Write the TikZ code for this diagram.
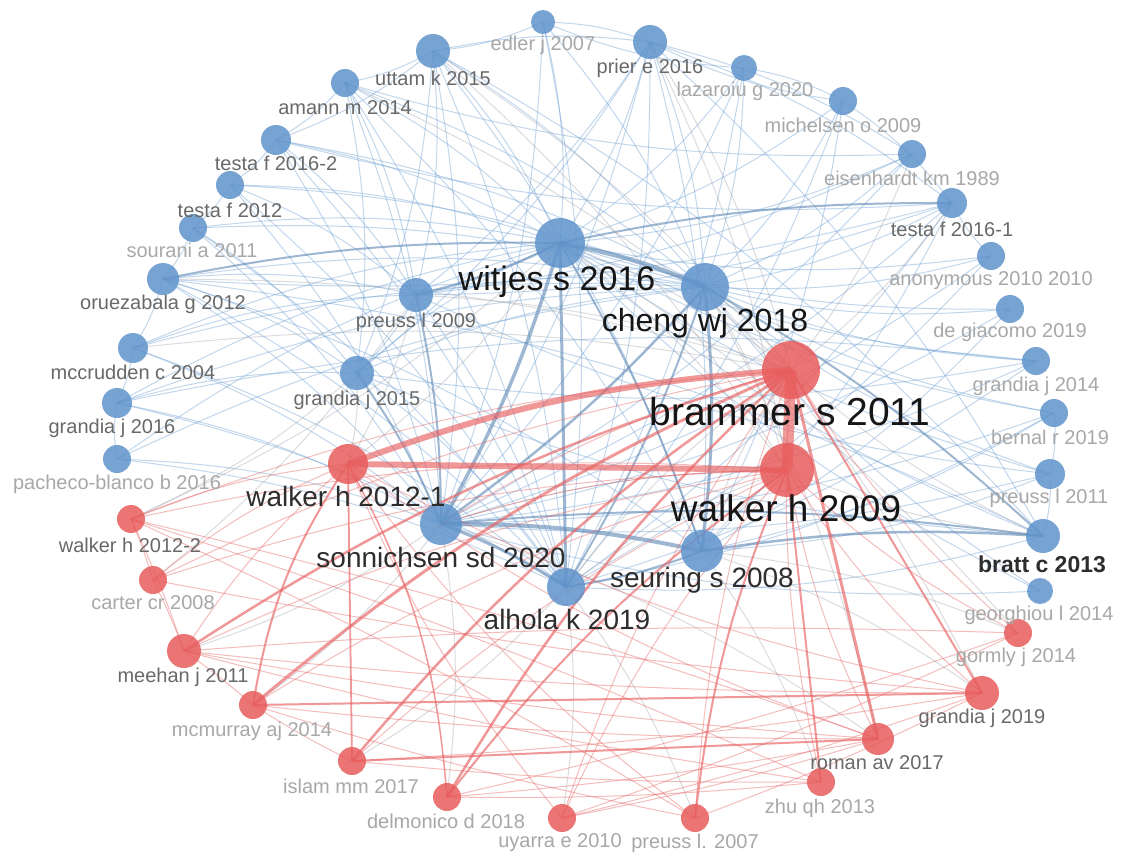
\documentclass[tikz,border=0pt]{standalone}
\usepackage{fontspec}
\setmainfont{Liberation Sans}
\pgfdeclarelayer{edges}
\pgfsetlayers{edges,main}
\definecolor{nblue}{RGB}{96,148,204}
\definecolor{nred}{RGB}{232,92,92}
\definecolor{eblue}{RGB}{110,160,212}
\definecolor{ered}{RGB}{232,96,96}
\definecolor{egrey}{RGB}{150,155,165}
\definecolor{tdark}{RGB}{22,22,22}
\definecolor{tbig}{RGB}{45,45,45}
\definecolor{tmid}{RGB}{105,105,105}
\definecolor{tlight}{RGB}{168,168,168}
\tikzset{
  bn/.style={circle, inner sep=0pt, fill=nblue, fill opacity=0.85, draw=none},
  rn/.style={circle, inner sep=0pt, fill=nred, fill opacity=0.85, draw=none},
  lsm/.style={inner sep=0pt, text=tlight, font=\fontsize{20}{22}\selectfont},
  lmd/.style={inner sep=0pt, text=tmid, font=\fontsize{20}{22}\selectfont},
  lbg/.style={inner sep=0pt, text=tbig, font=\fontsize{28}{30}\selectfont},
  lhuge/.style={inner sep=0pt, text=tdark},
  be/.style={draw=eblue, line width=1pt, opacity=0.42},
  bs/.style={draw=eblue!85!black, opacity=0.6},
  ge/.style={draw=egrey, line width=1pt, opacity=0.35},
  re/.style={draw=ered, line width=1pt, opacity=0.42},
  rs/.style={draw=ered, opacity=0.65},
}
\begin{document}
\begin{tikzpicture}[x=1pt,y=-1pt]
\useasboundingbox (0,0) rectangle (1125,855);
% ---- blue nodes
\node[bn,minimum size=24] (edler) at (543,22) {};
\node[bn,minimum size=34] (uttam) at (433,51) {};
\node[bn,minimum size=34] (prier) at (650,42) {};
\node[bn,minimum size=26] (lazarou) at (744,68) {};
\node[bn,minimum size=28] (michelsen) at (843,101) {};
\node[bn,minimum size=28] (eisenhardt) at (912,154) {};
\node[bn,minimum size=30] (testaA) at (952,203) {};
\node[bn,minimum size=28] (anon) at (991,256) {};
\node[bn,minimum size=28] (degiacomo) at (1010,309) {};
\node[bn,minimum size=28] (grandiaD) at (1036,361) {};
\node[bn,minimum size=28] (bernal) at (1054,413) {};
\node[bn,minimum size=30] (preussC) at (1050,474) {};
\node[bn,minimum size=34] (bratt) at (1043,536) {};
\node[bn,minimum size=26] (georghiou) at (1040,591) {};
\node[bn,minimum size=28] (amann) at (345,83) {};
\node[bn,minimum size=30] (testaB) at (276,140) {};
\node[bn,minimum size=28] (testaC) at (230,185) {};
\node[bn,minimum size=28] (sourani) at (193,228) {};
\node[bn,minimum size=32] (oruez) at (163,279) {};
\node[bn,minimum size=30] (mccrudden) at (133,348) {};
\node[bn,minimum size=30] (grandiaF) at (117,403) {};
\node[bn,minimum size=28] (pacheco) at (117,459) {};
\node[bn,minimum size=50] (witjes) at (560,243) {};
\node[bn,minimum size=48] (cheng) at (705,287) {};
\node[bn,minimum size=34] (preussB) at (416,295) {};
\node[bn,minimum size=34] (grandiaE) at (357,373) {};
\node[bn,minimum size=42] (sonn) at (441,524) {};
\node[bn,minimum size=42] (seuring) at (702,551) {};
\node[bn,minimum size=38] (alhola) at (566,587) {};
% ---- red nodes
\node[rn,minimum size=58] (brammer) at (791,370) {};
\node[rn,minimum size=54] (walkerA) at (787,470) {};
\node[rn,minimum size=40] (walkerB) at (348,464) {};
\node[rn,minimum size=28] (walkerC) at (131,519) {};
\node[rn,minimum size=28] (carter) at (153,580) {};
\node[rn,minimum size=34] (meehan) at (184,651) {};
\node[rn,minimum size=28] (mcmurray) at (253,705) {};
\node[rn,minimum size=28] (islam) at (352,761) {};
\node[rn,minimum size=28] (delmonico) at (447,797) {};
\node[rn,minimum size=28] (uyarra) at (562,818) {};
\node[rn,minimum size=28] (preussA) at (695,818) {};
\node[rn,minimum size=28] (zhu) at (821,782) {};
\node[rn,minimum size=32] (roman) at (878,739) {};
\node[rn,minimum size=34] (grandiaG) at (982,693) {};
\node[rn,minimum size=28] (gormly) at (1018,633) {};
% ---- edges
\begin{pgfonlayer}{edges}
\fill[white] (0,0) rectangle (1125,855);
\foreach \a/\b in {edler/witjes, edler/cheng, edler/sonn, edler/alhola, edler/prier, edler/uttam,
 uttam/witjes, uttam/cheng, uttam/sonn, uttam/alhola, uttam/seuring, uttam/preussB, uttam/grandiaE, uttam/amann, uttam/testaB, uttam/prier, uttam/bratt,
 prier/witjes, prier/cheng, prier/sonn, prier/alhola, prier/seuring, prier/preussB, prier/grandiaE, prier/eisenhardt, prier/testaA, prier/bratt,
 lazarou/witjes, lazarou/cheng, lazarou/sonn, lazarou/alhola, lazarou/michelsen, lazarou/edler,
 michelsen/witjes, michelsen/cheng, michelsen/alhola, michelsen/seuring, michelsen/testaA, michelsen/prier,
 eisenhardt/witjes, eisenhardt/cheng, eisenhardt/sonn, eisenhardt/preussB, eisenhardt/amann,
 testaA/cheng, testaA/sonn, testaA/alhola, testaA/seuring, testaA/preussB, testaA/testaB, testaA/oruez,
 anon/witjes, anon/cheng, anon/sonn, anon/alhola, anon/testaA,
 degiacomo/witjes, degiacomo/cheng, degiacomo/sonn, degiacomo/seuring,
 grandiaD/witjes, grandiaD/cheng, grandiaD/sonn, grandiaD/alhola, grandiaD/grandiaE,
 bernal/witjes, bernal/cheng, bernal/sonn, bernal/seuring, bernal/alhola, bernal/preussC,
 preussC/witjes, preussC/cheng, preussC/sonn, preussC/seuring, preussC/preussB, preussC/bratt,
 bratt/witjes, bratt/alhola, bratt/grandiaE,
 georghiou/witjes, georghiou/cheng, georghiou/sonn,
 amann/witjes, amann/cheng, amann/sonn, amann/alhola, amann/seuring, amann/grandiaE, amann/preussB, amann/testaB,
 testaB/witjes, testaB/cheng, testaB/sonn, testaB/alhola, testaB/preussB, testaB/testaC,
 testaC/witjes, testaC/cheng, testaC/sonn, testaC/alhola, testaC/preussB, testaC/sourani,
 sourani/witjes, sourani/cheng, sourani/sonn, sourani/alhola, sourani/grandiaE, sourani/oruez,
 oruez/cheng, oruez/sonn, oruez/alhola, oruez/seuring, oruez/preussB, oruez/grandiaE, oruez/bratt, oruez/mccrudden,
 mccrudden/witjes, mccrudden/cheng, mccrudden/sonn, mccrudden/alhola, mccrudden/preussB, mccrudden/grandiaF,
 grandiaF/witjes, grandiaF/cheng, grandiaF/sonn, grandiaF/alhola, grandiaF/grandiaE, grandiaF/grandiaD,
 pacheco/witjes, pacheco/sonn, pacheco/alhola, pacheco/cheng, pacheco/grandiaF,
 preussB/grandiaE, preussB/alhola, preussB/cheng, grandiaE/alhola, grandiaE/cheng, grandiaE/witjes}
 {\draw[be] (\a.center) to[bend left=9] (\b.center);}
\foreach \a/\b/\w in {witjes/cheng/4.5, witjes/sonn/3.5, witjes/seuring/2, witjes/preussB/2.5,
 cheng/sonn/2.5, cheng/seuring/3, cheng/alhola/2, sonn/seuring/4, sonn/alhola/3, seuring/alhola/2,
 seuring/bratt/2.5, cheng/bratt/2, witjes/testaA/2, oruez/witjes/2, sonn/bratt/2, preussB/sonn/2, grandiaE/sonn/2}
 {\draw[bs, line width=\w pt] (\a.center) to[bend left=6] (\b.center);}
\draw[bs, line width=3pt] (witjes.center) -- (alhola.center);
\foreach \a/\b in {brammer/witjes, brammer/cheng, walkerA/cheng, walkerA/witjes, brammer/uttam, brammer/prier,
 walkerA/uttam, brammer/preussB, brammer/oruez, brammer/mccrudden, walkerA/sonn, walkerA/seuring, brammer/seuring,
 brammer/alhola, walkerA/alhola, brammer/testaA, brammer/bratt, walkerA/bratt, walkerB/witjes, walkerB/preussB,
 walkerB/grandiaE, grandiaG/seuring, roman/sonn, meehan/sonn, grandiaG/cheng, roman/cheng, zhu/seuring,
 preussA/alhola, uyarra/alhola, delmonico/sonn, islam/alhola, mcmurray/sonn, gormly/seuring, gormly/witjes,
 walkerC/witjes, carter/preussB, walkerC/grandiaE, brammer/amann, walkerA/prier, brammer/eisenhardt}
 {\draw[ge] (\a.center) to[bend right=8] (\b.center);}
\foreach \a/\b in {brammer/uyarra, brammer/zhu, brammer/preussA, brammer/gormly, brammer/walkerC, brammer/carter, brammer/sonn,
 walkerA/meehan, walkerA/mcmurray, walkerA/islam, walkerA/uyarra, walkerA/roman, walkerA/grandiaG, walkerA/gormly,
 walkerA/walkerC, walkerA/carter, walkerA/sonn,
 walkerB/meehan, walkerB/walkerC, walkerB/carter, walkerB/uyarra, walkerB/preussA, walkerB/roman, walkerB/grandiaG}
 {\draw[re] (\a.center) to[bend right=8] (\b.center);}
\foreach \a/\b in {mcmurray/roman, mcmurray/islam, mcmurray/meehan, mcmurray/preussA,
 meehan/grandiaG, meehan/roman, meehan/carter, meehan/walkerC, meehan/zhu,
 islam/grandiaG, islam/zhu, delmonico/roman, delmonico/zhu, delmonico/gormly,
 uyarra/roman, uyarra/gormly, uyarra/grandiaG, preussA/grandiaG, preussA/walkerC,
 carter/walkerC, carter/grandiaG, zhu/walkerC, roman/walkerC, gormly/meehan}
 {\draw[re] (\a.center) to[bend right=3] (\b.center);}
\foreach \a/\b/\w in {brammer/walkerB/6, brammer/mcmurray/3, brammer/meehan/2.5,
 brammer/islam/2.5, brammer/delmonico/2.5, walkerA/delmonico/2, walkerA/preussA/2}
 {\draw[rs, line width=\w pt] (\a.center) to[bend right=8] (\b.center);}
\foreach \a/\b/\w in {brammer/walkerA/11, walkerA/walkerB/6, brammer/roman/3, brammer/grandiaG/2, walkerA/zhu/2,
 walkerB/islam/1.8, mcmurray/grandiaG/2, islam/roman/2}
 {\draw[rs, line width=\w pt] (\a.center) -- (\b.center);}
\draw[rs, line width=2pt] (walkerB.center) to[bend right=12] (mcmurray.center);
\draw[rs, line width=1.5pt] (walkerB.center) to[bend left=12] (delmonico.center);
\end{pgfonlayer}
% ---- labels
\node[lsm] (edlerL) at (543,45) {edler j 2007};
\node[lmd] (uttamL) at (433,78) {uttam k 2015};
\node[lmd] (prierL) at (650,68) {prier e 2016};
\node[lsm] (lazarouL) at (745,91) {lazaroiu g 2020};
\node[lsm] (michelsenL) at (843,125) {michelsen o 2009};
\node[lsm] (eisenhardtL) at (912,178) {eisenhardt km 1989};
\node[lmd] (testaAL) at (952,229) {testa f 2016-1};
\node[lsm] (anonL) at (991,281) {anonymous 2010 2010};
\node[lsm] (degiacomoL) at (1010,332) {de giacomo 2019};
\node[lsm] (grandiaDL) at (1036,386) {grandia j 2014};
\node[lsm] (bernalL) at (1050,437) {bernal r 2019};
\node[lsm] (preussCL) at (1049,498) {preuss l 2011};
\node[inner sep=0pt, text=tbig, font=\fontsize{23}{25}\selectfont\bfseries] (brattL) at (1042,564) {bratt c 2013};
\node[lsm] (georghiouL) at (1039,615) {georghiou l 2014};
\node[lmd] (amannL) at (345,108) {amann m 2014};
\node[lmd] (testaBL) at (276,163) {testa f 2016-2};
\node[lmd] (testaCL) at (230,210) {testa f 2012};
\node[lsm] (souraniL) at (192,250) {sourani a 2011};
\node[lmd] (oruezL) at (163,304) {oruezabala g 2012};
\node[lmd] (mccruddenL) at (133,372) {mccrudden c 2004};
\node[lmd] (grandiaFL) at (112,428) {grandia j 2016};
\node[lsm] (pachecoL) at (117,484) {pacheco-blanco b 2016};
\node[lhuge, font=\fontsize{34}{36}\selectfont] (witjesL) at (557,282) {witjes s 2016};
\node[lhuge, font=\fontsize{32}{34}\selectfont] (chengL) at (705,323) {cheng wj 2018};
\node[lmd] (preussBL) at (416,322) {preuss l 2009};
\node[lmd] (grandiaEL) at (357,400) {grandia j 2015};
\node[lbg] (sonnL) at (441,557) {sonnichsen sd 2020};
\node[lbg] (seuringL) at (702,580) {seuring s 2008};
\node[lbg] (alholaL) at (567,619) {alhola k 2019};
\node[lhuge, font=\fontsize{39}{41}\selectfont] (brammerL) at (790,412) {brammer s 2011};
\node[lhuge, font=\fontsize{37}{39}\selectfont] (walkerAL) at (786,508) {walker h 2009};
\node[lbg] (walkerBL) at (346,496) {walker h 2012-1};
\node[lmd] (walkerCL) at (130,545) {walker h 2012-2};
\node[lsm] (carterL) at (153,603) {carter cr 2008};
\node[lmd] (meehanL) at (183,677) {meehan j 2011};
\node[lsm] (mcmurrayL) at (252,731) {mcmurray aj 2014};
\node[lsm] (islamL) at (351,786) {islam mm 2017};
\node[lsm] (delmonicoL) at (446,821) {delmonico d 2018};
\node[lsm] (uyarraL) at (560,843) {uyarra e 2010};
\node[lsm] (preussAL) at (695,843) {preuss l. 2007};
\node[lsm] (zhuL) at (820,808) {zhu qh 2013};
\node[lmd] (romanL) at (877,763) {roman av 2017};
\node[lmd] (grandiaGL) at (982,718) {grandia j 2019};
\node[lsm] (gormlyL) at (1016,657) {gormly j 2014};
\end{tikzpicture}
\end{document}
